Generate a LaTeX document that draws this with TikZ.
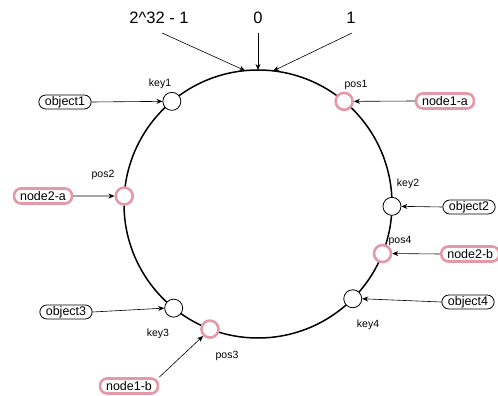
\documentclass[tikz,border=0pt]{standalone}
\usepackage{fontspec}
\setmainfont{Liberation Sans}
\usetikzlibrary{arrows.meta,calc}
\definecolor{pinkc}{RGB}{228,152,168}
\begin{document}
\begin{tikzpicture}[x=1pt,y=-1pt,
  keypt/.style={circle,draw=black,line width=0.8pt,fill=white,minimum size=18pt,inner sep=0pt},
  pospt/.style={circle,draw=pinkc,line width=2.6pt,fill=white,minimum size=17pt,inner sep=0pt},
  objbox/.style={draw=black,line width=0.8pt,rounded corners=7pt,fill=white,minimum height=14pt,inner xsep=6pt,inner ysep=0pt,font=\fontsize{12.5}{14}\selectfont},
  nodebox/.style={draw=pinkc,line width=2.6pt,rounded corners=7pt,fill=white,minimum height=15pt,inner xsep=6pt,inner ysep=0pt,font=\fontsize{12.5}{14}\selectfont},
  lbl/.style={font=\fontsize{10.5}{12}\selectfont,inner sep=0pt},
  toplbl/.style={font=\fontsize{16.5}{18}\selectfont,inner sep=0pt},
  arr/.style={-{Stealth[length=6pt,width=5pt]},line width=0.6pt}]
\useasboundingbox[fill=white] (0,0) rectangle (498,396);
\coordinate (c) at (258,204);
\draw[line width=1.5pt] (c) circle[radius=134];
% top markers
\coordinate (t1) at ($(c)+(-95.5:134)$);
\coordinate (t0) at ($(c)+(-90:134)$);
\coordinate (t2) at ($(c)+(-83.5:134)$);
\node[toplbl] (l1) at (159,18) {2\^{}32 - 1};
\node[toplbl] (l0) at (258,18) {0};
\node[toplbl] (l2) at (351,18) {1};
\coordinate (s1) at (162,33);
\coordinate (s0) at (258,33);
\coordinate (s2) at (352,33);
\draw[arr] (s1) -- (t1);
\draw[arr] (s0) -- (t0);
\draw[arr] (s2) -- (t2);
% points on ring
\node[keypt] (key1) at ($(c)+(-130:134)$) {};
\node[pospt] (pos1) at ($(c)+(-50:134)$) {};
\node[pospt] (pos2) at ($(c)+(-176.6:134)$) {};
\node[keypt] (key2) at ($(c)+(1:134)$) {};
\node[pospt] (pos4) at ($(c)+(21.7:134)$) {};
\node[keypt] (key4) at ($(c)+(45:134)$) {};
\node[keypt] (key3) at ($(c)+(129:134)$) {};
\node[pospt] (pos3) at ($(c)+(111:134)$) {};
% labels
\node[lbl] (lk1) at (160,84) {key1};
\node[lbl] (lp1) at (356,85) {pos1};
\node[lbl] (lp2) at (103,175) {pos2};
\node[lbl] (lk2) at (408,184) {key2};
\node[lbl] (lp4) at (400,241) {pos4};
\node[lbl] (lk4) at (368,325) {key4};
\node[lbl] (lk3) at (158,334) {key3};
\node[lbl] (lp3) at (227,356) {pos3};
% boxes
\node[objbox] (o1) at (65,102) {object1};
\node[nodebox] (n1a) at (445,101) {node1-a};
\node[nodebox] (n2a) at (43,196) {node2-a};
\node[objbox] (o2) at (469,207) {object2};
\node[nodebox,anchor=west] (n2b) at (440,254) {node2-b};
\node[objbox] (o3) at (66,312) {object3};
\node[nodebox] (n1b) at (129,386) {node1-b};
\node[objbox] (o4) at (468,302) {object4};
% arrows
\draw[arr] (o1.east) -- (key1.west);
\draw[arr] (n1a.west) -- (pos1.east);
\draw[arr] (n2a.east) -- (pos2.west);
\draw[arr] (o2.west) -- (key2.east);
\draw[arr] (n2b.west) -- (pos4.east);
\draw[arr] (o4.west) -- (key4.east);
\draw[arr] (o3.east) -- (key3.west);
\draw[arr] (n1b.north east) -- (pos3.south west);
\end{tikzpicture}
\end{document}
